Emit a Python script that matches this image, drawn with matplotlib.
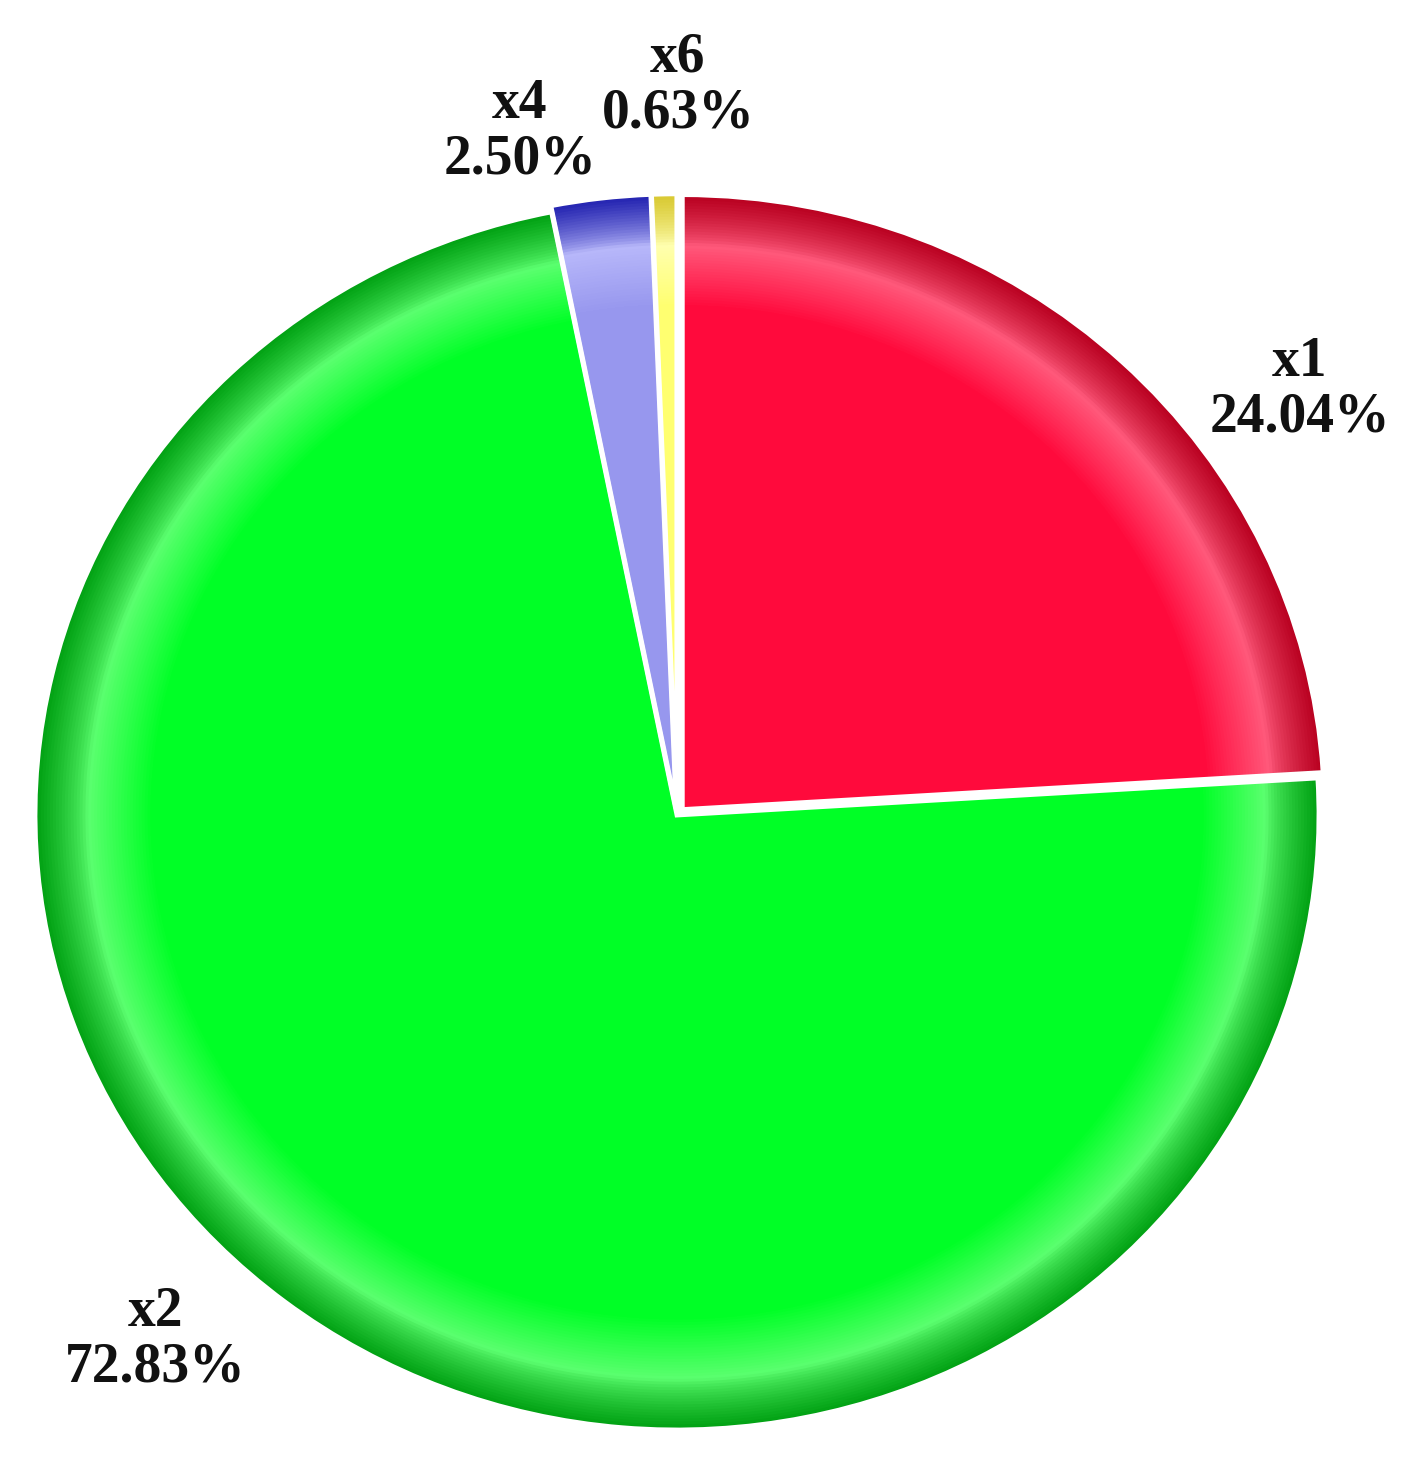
import numpy as np
import matplotlib.pyplot as plt
from matplotlib.colors import to_rgb

labels = ["x1", "x2", "x4", "x6"]
shares = [24.04, 72.83, 2.50, 0.63]
pct_text = ["24.04%", "72.83%", "2.50%", "0.63%"]

base_colors = ["#ff0a3c", "#00ff26", "#9797ee", "#ffff70"]
rim_colors = ["#b8001f", "#00a012", "#2222b0", "#d8c830"]
shine_colors = ["#ff5a7c", "#5cff70", "#b8b8fa", "#ffffb0"]
explode = [0.012, 0.0, 0.01, 0.01]

# label positions in pixels (centre of the two-line label)
label_px = [(1300, 390), (155, 1340), (520, 132), (678, 86)]

W, H = 1413, 1460
cx, cy = 677, 815
rx, ry = 642, 615

fig = plt.figure(figsize=(W / 100, H / 100), dpi=100)
ax = fig.add_axes([0, 0, 1, 1])


def mix(c1, c2, t):
    a, b = np.array(to_rgb(c1)), np.array(to_rgb(c2))
    return tuple(a + (b - a) * t)


# radial shading: dark rim, soft shine, then flat colour
radii = np.linspace(1.0, 0.82, 40)
for r in radii:
    cols = []
    for base, rim, shine in zip(base_colors, rim_colors, shine_colors):
        if r > 0.92:
            t = (r - 0.92) / 0.08
            cols.append(mix(shine, rim, min(1, t ** 0.7)))
        else:
            t = (0.92 - r) / 0.10
            cols.append(mix(shine, base, min(1, t)))
    ax.pie(shares, colors=cols, radius=r, startangle=90, counterclock=False,
           explode=explode, wedgeprops=dict(linewidth=0))

ax.pie(shares, colors=base_colors, radius=0.82, startangle=90, counterclock=False,
       explode=explode, wedgeprops=dict(linewidth=0))

# white separators between slices
ax.pie(shares, colors=["none"] * 4, radius=1.0, startangle=90, counterclock=False,
       explode=explode, wedgeprops=dict(linewidth=3.5, edgecolor="white", facecolor="none"))

ax.set_aspect("auto")
ax.set_xlim(-cx / rx, (W - cx) / rx)
ax.set_ylim(-(H - cy) / ry, cy / ry)
ax.axis("off")

for name, pct, (px, py) in zip(labels, pct_text, label_px):
    fig.text(px / W, 1 - py / H, name + "\n" + pct, ha="center", va="center",
             fontsize=40, fontweight="bold", family="Liberation Serif",
             linespacing=1.1, color="#111111")

fig.savefig("out.png", dpi=100, facecolor="white")
